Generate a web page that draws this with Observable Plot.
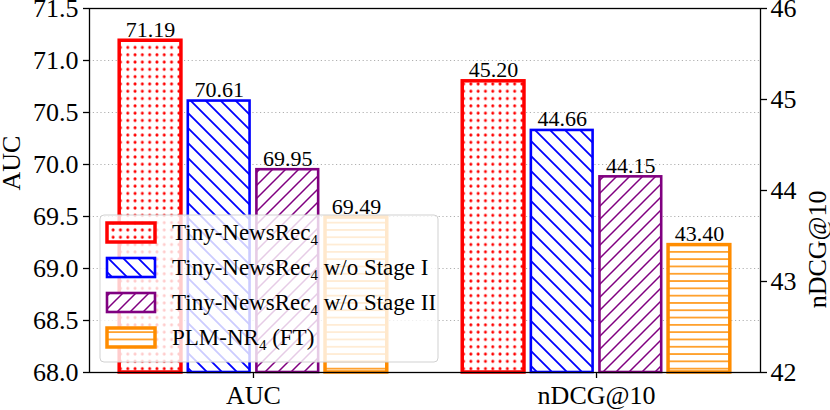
<!DOCTYPE html>
<html><head><meta charset="utf-8">
<script src="https://cdn.jsdelivr.net/npm/d3@7"></script>
<script src="https://cdn.jsdelivr.net/npm/@observablehq/plot@0.6"></script>
<style>body{margin:0;background:#fff} #chart{width:830px;height:410px}</style>
</head><body><div id="chart"></div>
<script>
const groups = ["AUC", "nDCG@10"];
const methodNames = ["Tiny-NewsRec", "Tiny-NewsRec", "Tiny-NewsRec", "PLM-NR"];
const methodSubs = ["4", "4", "4", "4"];
const methodSuffixes = ["", " w/o Stage I", " w/o Stage II", " (FT)"];
const aucValues = [71.19, 70.61, 69.95, 69.49];
const ndcgValues = [45.20, 44.66, 44.15, 43.40];
const aucTicks = [68.0, 68.5, 69.0, 69.5, 70.0, 70.5, 71.0, 71.5];
const ndcgTicks = [42, 43, 44, 45, 46];
const colors = ["#ff0000", "#0000ff", "#800080", "#ff8c00"];
const strokeWidths = [3.5, 2.6, 2.6, 3.5];

const FONT = "'Liberation Serif','Times New Roman',Times,serif";
const toLeft = d3.scaleLinear([ndcgTicks[0], ndcgTicks[ndcgTicks.length - 1]], [aucTicks[0], aucTicks[aucTicks.length - 1]]);

const rows = [];
groups.forEach((g, gi) => {
  const vals = gi === 0 ? aucValues : ndcgValues;
  vals.forEach((v, mi) => rows.push({group: g, gi, mi, value: v, y: gi === 0 ? v : toLeft(v), x: gi + (mi - 1.5) * 0.2}));
});

const plot = Plot.plot({
  width: 830, height: 410,
  marginLeft: 89, marginRight: 70, marginTop: 8, marginBottom: 38,
  style: {fontFamily: FONT, fontSize: "26px", color: "black", background: "white", overflow: "visible"},
  x: {domain: [-0.478, 1.478], axis: null},
  y: {domain: [aucTicks[0], aucTicks[aucTicks.length - 1]], axis: null},
  marks: [
    Plot.gridY(aucTicks.slice(1, -1), {stroke: "#b0b0b0", strokeOpacity: 1, strokeDasharray: "1.2,2.6", strokeWidth: 1}),
    ...colors.map((c, mi) => Plot.rect(rows.filter(d => d.mi === mi), {
      x1: d => d.x - 0.09, x2: d => d.x + 0.09, y1: aucTicks[0], y2: "y",
      fill: `url(#pat-${mi})`, stroke: c, strokeWidth: strokeWidths[mi]
    })),
    Plot.frame({stroke: "black", strokeWidth: 1.3}),
    Plot.text(rows, {x: "x", y: "y", text: d => d.value.toFixed(2), lineAnchor: "bottom", dy: -4, fontSize: 22, fill: "black"}),
    Plot.axisY(aucTicks, {anchor: "left", tickFormat: d3.format(".1f"), tickSize: 6, tickPadding: 5, label: null, fontSize: 26, strokeWidth: 1.3}),
    Plot.axisY(ndcgTicks.map(v => toLeft(v)), {anchor: "right", tickFormat: d => String(Math.round(toLeft.invert(d))), tickSize: 6, tickPadding: 4, label: null, fontSize: 26, strokeWidth: 1.3}),
    Plot.axisX([0, 1], {anchor: "bottom", tickFormat: i => groups[i], tickSize: 6, tickPadding: 7, label: null, fontSize: 26, strokeWidth: 1.3}),
    Plot.text(["AUC"], {frameAnchor: "left", text: d => d, rotate: -90, dx: -78, fontSize: 26, fill: "black"}),
    Plot.text(["nDCG@10"], {frameAnchor: "right", text: d => d, rotate: -90, dx: 57, fontSize: 26, fill: "black"})
  ]
});

const svg = d3.select(plot);
const defs = svg.insert("defs", ":first-child");
function pat(id, w, h) {
  const p = defs.append("pattern").attr("id", id).attr("patternUnits", "userSpaceOnUse").attr("width", w).attr("height", h);
  p.append("rect").attr("width", w).attr("height", h).attr("fill", "white");
  return p;
}
// dots
{ const s = 7.3; const p = pat("pat-0", s, s); p.append("circle").attr("cx", s/2).attr("cy", s/2).attr("r", 1.5).attr("fill", colors[0]); }
// backslash
{ const s = 15; const p = pat("pat-1", s, s); p.append("path").attr("d", `M0,0L${s},${s}M-2,${s-2}L2,${s+2}M${s-2},-2L${s+2},2`).attr("stroke", colors[1]).attr("stroke-width", 1.8); }
// forward slash
{ const s = 13; const p = pat("pat-2", s, s); p.append("path").attr("d", `M0,${s}L${s},0M-2,2L2,-2M${s-2},${s+2}L${s+2},${s-2}`).attr("stroke", colors[2]).attr("stroke-width", 1.5); }
// horizontal
{ const s = 7.3; const p = pat("pat-3", 10, s); p.append("path").attr("d", `M0,${s/2}L10,${s/2}`).attr("stroke", colors[3]).attr("stroke-width", 1.5); }

// legend
const lg = svg.append("g").attr("font-family", FONT).attr("text-anchor", "start");
lg.append("rect").attr("x", 100).attr("y", 215).attr("width", 338).attr("height", 147).attr("rx", 4)
  .attr("fill", "white").attr("fill-opacity", 0.8).attr("stroke", "#cccccc").attr("stroke-opacity", 0.9);
colors.forEach((c, i) => {
  const cy = 232.5 + 35 * i;
  lg.append("rect").attr("x", 107).attr("y", cy - 9.5).attr("width", 48).attr("height", 19)
    .attr("fill", `url(#pat-${i})`).attr("stroke", c).attr("stroke-width", strokeWidths[i]);
  const t = lg.append("text").attr("x", 172).attr("y", cy + 7.5).attr("font-size", 23).attr("fill", "black").attr("text-anchor", "start");
  t.append("tspan").text(methodNames[i]);
  t.append("tspan").attr("font-size", 15).attr("dy", 5).text(methodSubs[i]);
  t.append("tspan").attr("dy", -5).text(methodSuffixes[i]);
});

document.getElementById("chart").append(plot);
</script>
</body></html>
